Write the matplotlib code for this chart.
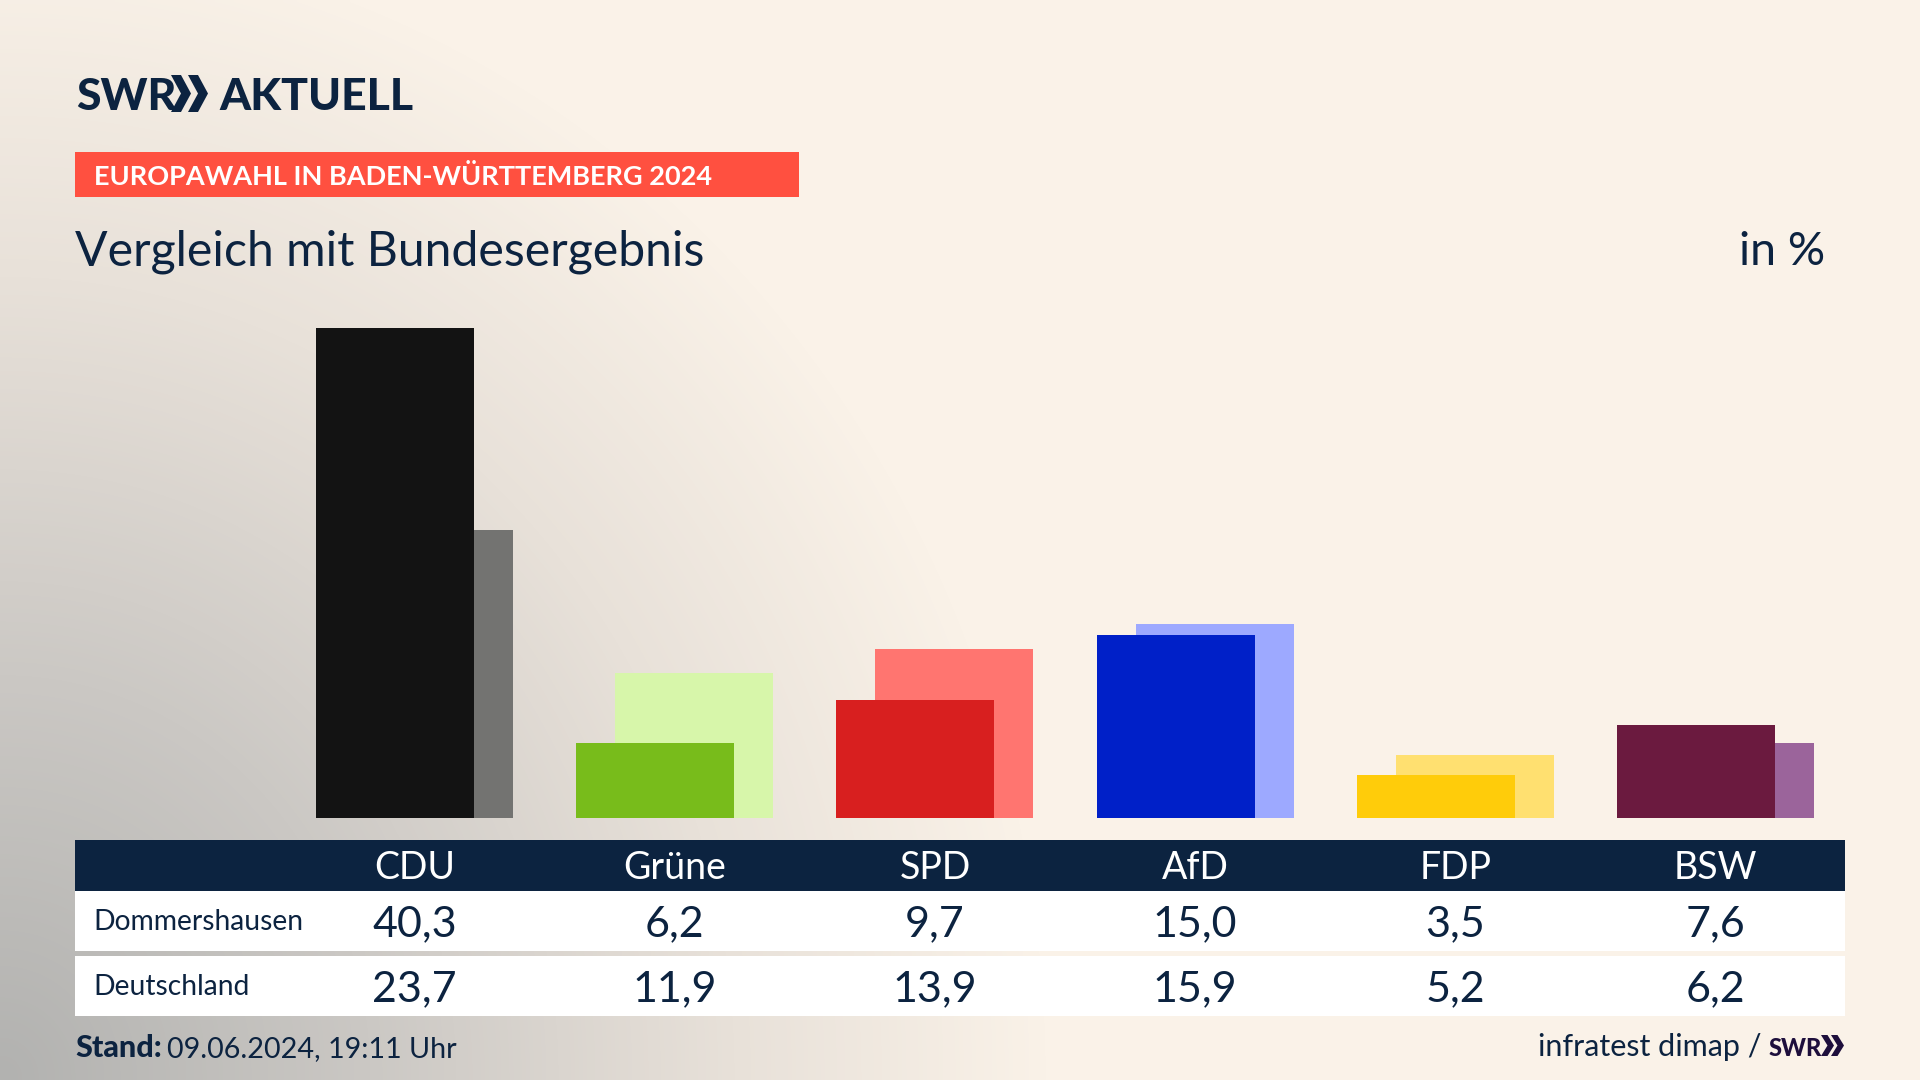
import numpy as np
import matplotlib
matplotlib.use("Agg")
import matplotlib.pyplot as plt
from matplotlib.colors import LinearSegmentedColormap
from matplotlib.patches import Rectangle, Polygon

parties = ["CDU", "Grüne", "SPD", "AfD", "FDP", "BSW"]
local_values = [40.3, 6.2, 9.7, 15.0, 3.5, 7.6]
national_values = [23.7, 11.9, 13.9, 15.9, 5.2, 6.2]
local_colors = ["#131313", "#78BC1B", "#D81F1F", "#0020C8", "#FFCC0A", "#6B1A3F"]
national_colors = ["#737371", "#D7F6AA", "#FF7570", "#9DA9FF", "#FFE070", "#9B649B"]
row_names = ["Dommershausen", "Deutschland"]

NAVY = "#0C2340"
FONT = ["Lato", "DejaVu Sans"]
W, H = 1920, 1080
plt.rcParams["font.family"] = FONT

fig = plt.figure(figsize=(W / 100, H / 100), dpi=100)

# background
bg = fig.add_axes([0, 0, 1, 1], zorder=0)
bg.set_xlim(0, W); bg.set_ylim(H, 0); bg.axis("off")
yy, xx = np.mgrid[0:H:270j, 0:W:480j]
d = np.sqrt((xx / 1050.0) ** 2 + ((H - yy) / 1150.0) ** 2)
cmap = LinearSegmentedColormap.from_list(
    "bg", [(0, "#B2B2B0"), (0.35, "#CBC8C4"), (0.7, "#E8E1D9"), (1, "#FAF2E8")])
bg.imshow(np.clip(d, 0, 1), cmap=cmap, vmin=0, vmax=1, extent=[0, W, H, 0],
          aspect="auto", interpolation="bilinear")
bg.set_xlim(0, W); bg.set_ylim(H, 0)

# bars
STEP = 260.2
X0 = 414.5
LEFT, RIGHT, TOP, BASE = 300, 1840, 327.5, 818
ax = fig.add_axes([LEFT / W, 1 - BASE / H, (RIGHT - LEFT) / W, (BASE - TOP) / H], zorder=1)
ax.patch.set_alpha(0)
ax.set_xlim((LEFT - X0) / STEP, (RIGHT - X0) / STEP)
ax.set_ylim(0, 40.3)
ax.axis("off")
x = np.arange(len(parties))
bw = 158 / STEP
ax.bar(x + 19.5 / STEP, national_values, width=bw, color=national_colors, zorder=1)
ax.bar(x - 19.5 / STEP, local_values, width=bw, color=local_colors, zorder=2)

# overlay
ov = fig.add_axes([0, 0, 1, 1], zorder=2)
ov.patch.set_alpha(0)
ov.set_xlim(0, W); ov.set_ylim(H, 0); ov.axis("off")

def chevrons(x0, y0, y1, w, gap, color):
    mid = (y0 + y1) / 2
    for i in range(2):
        a = x0 + i * gap
        ov.add_patch(Polygon([(a, y0), (a + w * 0.5, y0), (a + w, mid),
                              (a + w * 0.5, y1), (a, y1), (a + w * 0.5, mid)],
                             closed=True, fc=color, ec="none"))

ov.text(76, 110, "SWR", fontsize=32, fontweight="black", color=NAVY, va="baseline", ha="left")
chevrons(171, 75, 112, 20, 17, NAVY)
ov.text(219, 110, "AKTUELL", fontsize=32, fontweight="black", color=NAVY, va="baseline", ha="left")

ov.add_patch(Rectangle((75, 152), 724, 45, fc="#FF5040", ec="none"))
ov.text(94, 185, "EUROPAWAHL IN BADEN-WÜRTTEMBERG 2024", fontsize=19.5, fontweight="bold",
        color="white", va="baseline", ha="left")
ov.text(75, 265, "Vergleich mit Bundesergebnis", fontsize=34.7, color=NAVY, va="baseline", ha="left")
ov.text(1825, 265, "in %", fontsize=33.5, color=NAVY, va="baseline", ha="right")

# table
ov.add_patch(Rectangle((75, 840), 1770, 51, fc=NAVY, ec="none"))
ov.add_patch(Rectangle((75, 891), 1770, 60, fc="white", ec="none"))
ov.add_patch(Rectangle((75, 956), 1770, 60, fc="white", ec="none"))
for i, p in enumerate(parties):
    cx = X0 + i * STEP
    ov.text(cx, 879, p, fontsize=27, color="white", ha="center", va="baseline")
    ov.text(cx, 936, f"{local_values[i]:.1f}".replace(".", ","), fontsize=31, color=NAVY,
            ha="center", va="baseline")
    ov.text(cx, 1001, f"{national_values[i]:.1f}".replace(".", ","), fontsize=31, color=NAVY,
            ha="center", va="baseline")
ov.text(93.5, 930, row_names[0], fontsize=20.3, color=NAVY, ha="left", va="baseline")
ov.text(93.5, 995, row_names[1], fontsize=20.3, color=NAVY, ha="left", va="baseline")

# footer
ov.text(75, 1057, "Stand:", fontsize=22, fontweight="black", color=NAVY, ha="left", va="baseline")
ov.text(167, 1057, "09.06.2024, 19:11 Uhr", fontsize=20.7, color=NAVY, ha="left", va="baseline")
ov.text(1538, 1056, "infratest dimap /", fontsize=22, color=NAVY, ha="left", va="baseline")
ov.text(1769, 1056, "SWR", fontsize=17, fontweight="black", color="#1E0F3C", ha="left", va="baseline")
chevrons(1821, 1035, 1056, 13, 10, "#1E0F3C")

fig.savefig("out.png", dpi=100)
